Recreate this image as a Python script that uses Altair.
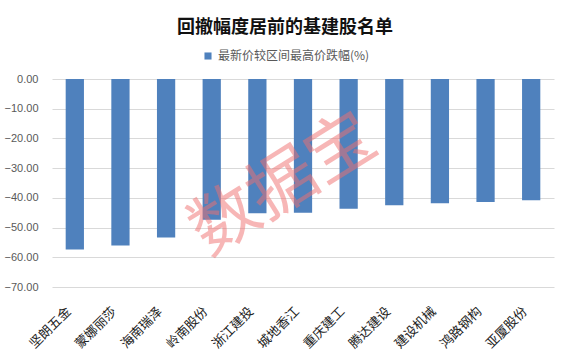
import altair as alt
import pandas as pd

names = ["坚朗五金", "蒙娜丽莎", "海南瑞泽", "岭南股份", "浙江建投", "城地香江",
         "重庆建工", "腾达建设", "建设机械", "鸿路钢构", "亚厦股份"]
drops = [-57.4, -56.0, -53.3, -47.4, -45.2, -45.0, -43.7, -42.5, -41.8, -41.4, -40.8]
series_name = "最新价较区间最高价跌幅(%)"
y_ticks = [0, -10, -20, -30, -40, -50, -60, -70]

df = pd.DataFrame({"name": names, "value": drops, "series": [series_name] * len(names)})

font = "Noto Sans CJK SC"

bars = alt.Chart(df).mark_bar(color="#4f81bd").encode(
    x=alt.X("name:N", sort=names, title=None,
            scale=alt.Scale(paddingInner=0.6, paddingOuter=0.3),
            axis=alt.Axis(labelAngle=-45, labelAlign="right", labelBaseline="middle",
                          labelFontSize=13, labelColor="#222222", labelFont=font,
                          domain=False, ticks=False, labelPadding=22, labelOffset=-6)),
    y=alt.Y("value:Q", title=None,
            scale=alt.Scale(domain=[-70, 0], nice=False),
            axis=alt.Axis(values=y_ticks, format=".2f", labelFontSize=11,
                          labelColor="#595959", labelFont="Liberation Sans",
                          domain=False, ticks=False, labelPadding=14,
                          gridColor="#d9d9d9", gridWidth=1)),
    color=alt.Color("series:N", scale=alt.Scale(range=["#4f81bd"]),
                    legend=alt.Legend(title=None, orient="none", legendX=150, legendY=-29,
                                      symbolType="square", symbolSize=50,
                                      labelFontSize=12, labelColor="#595959",
                                      labelFont=font, padding=0)),
)

watermark = alt.Chart(pd.DataFrame({"t": ["数据宝"]})).mark_text(
    fontSize=68, font=font, angle=328, color="#f07070", opacity=0.5,
    align="center", baseline="middle"
).encode(text="t:N", x=alt.value(232), y=alt.value(107))

chart = alt.layer(bars, watermark).properties(
    width=502, height=208,
    autosize=alt.AutoSizeParams(type="none"),
    padding={"left": 52, "top": 79, "right": 14, "bottom": 67},
    title=alt.TitleParams("回撤幅度居前的基建股名单", fontSize=18, fontWeight="bold",
                          font=font, color="#111111", anchor="middle", dx=-18, offset=13),
).configure_view(stroke=None)

chart.save("out.html", embed_options={"renderer": "svg", "actions": False})
